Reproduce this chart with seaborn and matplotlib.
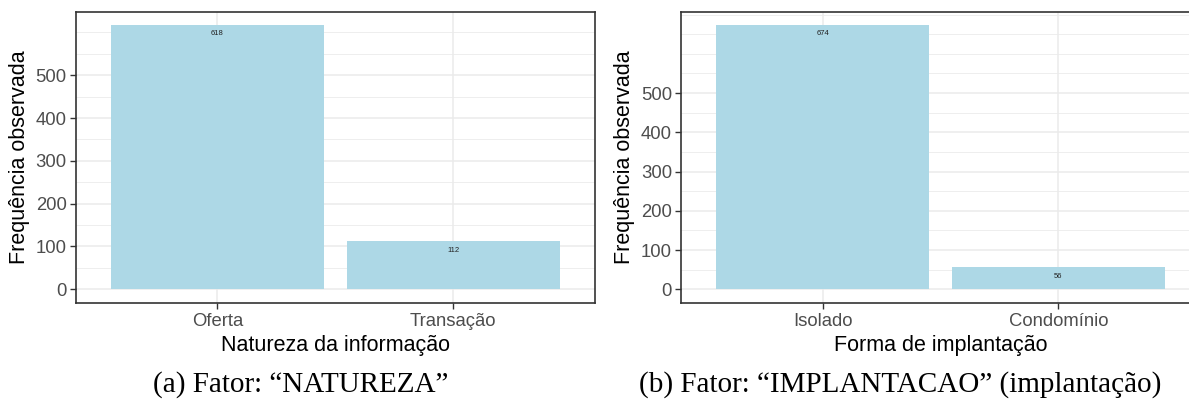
import matplotlib
matplotlib.use("Agg")
import matplotlib.pyplot as plt
import seaborn as sns
import pandas as pd
import numpy as np

# Factor counts
natureza_levels = ["Oferta", "Transação"]
natureza_counts = [618, 112]
implantacao_levels = ["Isolado", "Condomínio"]
implantacao_counts = [674, 56]

major_ticks = [0, 100, 200, 300, 400, 500]

sns.set_theme(style="white")
plt.rcParams["font.family"] = ["Liberation Sans", "DejaVu Sans"]

W, H = 1189, 408
fig = plt.figure(figsize=(W / 100, H / 100), dpi=100)


def panel(rect, levels, counts, xlabel, caption, cap_x):
    ax = fig.add_axes(rect)
    df = pd.DataFrame({"nivel": levels, "freq": counts})
    sns.barplot(data=df, x="nivel", y="freq", color="#ADD8E6", saturation=1,
                width=0.9, ax=ax, zorder=2)
    for p in ax.patches:
        p.set_edgecolor("none")
    top = max(counts)
    ax.set_xlim(0 - 0.6, len(levels) - 1 + 0.6)
    ax.set_ylim(-0.05 * top, top * 1.05)
    ax.set_yticks(major_ticks)
    minor = [v for v in np.arange(50, top * 1.05, 50) if v not in major_ticks]
    ax.set_yticks(minor, minor=True)
    ax.grid(True, which="major", color="#EBEBEB", linewidth=1.1, zorder=0)
    ax.grid(True, which="minor", color="#EBEBEB", linewidth=0.6, zorder=0)
    ax.set_axisbelow(True)
    for s in ax.spines.values():
        s.set_color("#333333")
        s.set_linewidth(1.2)
    ax.tick_params(axis="both", which="major", length=4.5, width=1.0, color="#333333",
                   labelsize=13.3, labelcolor="#4D4D4D", pad=2, left=True, bottom=True)
    ax.tick_params(axis="x", which="major", pad=3)
    ax.tick_params(axis="y", which="minor", length=0)
    ax.set_xlabel(xlabel, fontsize=15.5, color="black", labelpad=4)
    ax.set_ylabel("Frequência observada", fontsize=15.5, color="black", labelpad=4)
    for i, v in enumerate(counts):
        ax.text(i, v - top * 0.02, str(v), ha="center", va="top", fontsize=5.5,
                color="#222222")
    fig.text(cap_x / W, 1 - 385 / H, caption, ha="center", va="center",
             fontsize=21, color="black", family=["Liberation Serif", "DejaVu Serif"])
    return ax


panel([75.7 / W, 1 - 302.5 / H, (595 - 75.7) / W, (302.5 - 11.5) / H],
      natureza_levels, natureza_counts, "Natureza da informação",
      "(a) Fator: \u201cNATUREZA\u201d", 301)
panel([681 / W, 1 - 302.5 / H, (1200 - 681) / W, (302.5 - 11.5) / H],
      implantacao_levels, implantacao_counts, "Forma de implantação",
      "(b) Fator: \u201cIMPLANTACAO\u201d (implantação)", 900)

fig.savefig("out.png", dpi=100)
